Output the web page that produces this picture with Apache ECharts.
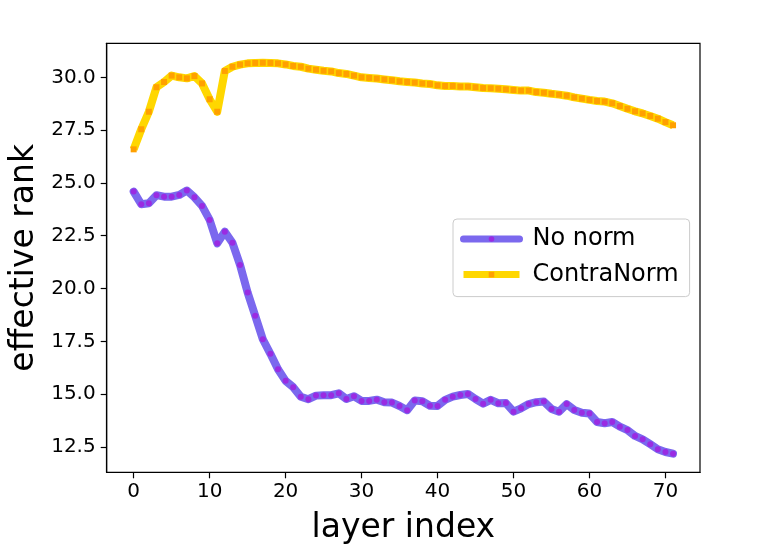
<!DOCTYPE html>
<html>
<head>
<meta charset="utf-8">
<script src="https://cdn.jsdelivr.net/npm/echarts@6/dist/echarts.min.js"></script>
<style>
  html, body { margin: 0; padding: 0; background: #fff; }
  #chart { width: 761px; height: 544px; }
</style>
</head>
<body>
<div id="chart"></div>
<script>
let layers = [];
for (let i = 0; i < 72; i++) layers.push(i);

let noNorm = [
  24.59, 23.99, 24.04, 24.42, 24.35, 24.35, 24.43, 24.64, 24.32, 23.91,
  23.25, 22.14, 22.69, 22.17, 21.12, 19.81, 18.71, 17.60, 16.91, 16.18,
  15.63, 15.33, 14.88, 14.76, 14.93, 14.95, 14.95, 15.04, 14.77, 14.90,
  14.68, 14.68, 14.74, 14.62, 14.60, 14.44, 14.24, 14.70, 14.66, 14.45,
  14.44, 14.73, 14.88, 14.96, 15.01, 14.77, 14.55, 14.73, 14.57, 14.58,
  14.17, 14.33, 14.53, 14.62, 14.65, 14.30, 14.17, 14.53, 14.25, 14.12,
  14.08, 13.68, 13.62, 13.68, 13.46, 13.30, 13.02, 12.86, 12.63, 12.39,
  12.26, 12.18
];

let contraNorm = [
  26.59, 27.54, 28.37, 29.53, 29.78, 30.08, 30.00, 29.95, 30.06, 29.71,
  28.96, 28.37, 30.30, 30.50, 30.60, 30.66, 30.68, 30.69, 30.68, 30.66,
  30.61, 30.54, 30.50, 30.41, 30.36, 30.31, 30.28, 30.20, 30.16, 30.08,
  30.00, 29.97, 29.94, 29.90, 29.86, 29.81, 29.78, 29.75, 29.71, 29.68,
  29.62, 29.59, 29.59, 29.56, 29.56, 29.53, 29.49, 29.48, 29.46, 29.43,
  29.40, 29.37, 29.37, 29.30, 29.27, 29.22, 29.18, 29.13, 29.05, 28.99,
  28.93, 28.88, 28.85, 28.77, 28.64, 28.51, 28.39, 28.29, 28.17, 28.04,
  27.88, 27.73
];

let xTicks = [0, 10, 20, 30, 40, 50, 60, 70];
let yTicks = [12.5, 15.0, 17.5, 20.0, 22.5, 25.0, 27.5, 30.0];

let font = 'DejaVu Sans';
let chart = echarts.init(document.getElementById('chart'));

let pairs = (vals) => layers.map((x, i) => [x, vals[i]]);

let option = {
  animation: false,
  backgroundColor: '#fff',
  textStyle: { fontFamily: font },
  grid: {
    left: 106.7, right: 61, top: 43.3, bottom: 71.7,
    outerBoundsMode: 'none',
    containLabel: false,
    show: true, borderColor: '#000', borderWidth: 1.2
  },
  legend: {
    orient: 'vertical',
    left: 453, top: 219,
    padding: [6, 11, 8, 7],
    itemGap: 7.6,
    itemWidth: 56, itemHeight: 7,
    backgroundColor: 'rgba(255,255,255,0.85)',
    borderColor: '#cccccc', borderWidth: 1, borderRadius: 4,
    lineStyle: { width: 7 },
    textStyle: { fontFamily: font, fontSize: 24, color: '#000', lineHeight: 28, padding: [0, 0, 0, 8] },
    data: ['No norm', 'ContraNorm']
  },
  xAxis: {
    type: 'value',
    min: -3.55, max: 74.55,
    name: 'layer index',
    nameLocation: 'middle',
    nameGap: 40,
    nameMoveOverlap: false,
    nameTextStyle: { fontFamily: font, fontSize: 33, color: '#000' },
    splitLine: { show: false },
    axisLine: { show: true, onZero: false, lineStyle: { color: '#000', width: 1.2 } },
    axisTick: { show: true, length: 6, lineStyle: { color: '#000', width: 1.2 }, customValues: xTicks },
    axisLabel: { fontFamily: font, fontSize: 20, color: '#000', margin: 9, customValues: xTicks }
  },
  yAxis: {
    type: 'value',
    min: 11.3, max: 31.61,
    name: 'effective rank',
    nameLocation: 'middle',
    nameGap: 66,
    nameMoveOverlap: false,
    nameTextStyle: { fontFamily: font, fontSize: 33, color: '#000' },
    splitLine: { show: false },
    axisLine: { show: true, onZero: false, lineStyle: { color: '#000', width: 1.2 } },
    axisTick: { show: true, length: 6, lineStyle: { color: '#000', width: 1.2 }, customValues: yTicks },
    axisLabel: {
      fontFamily: font, fontSize: 20, color: '#000', margin: 11,
      customValues: yTicks,
      formatter: (v) => v.toFixed(1)
    }
  },
  series: [
    {
      name: 'No norm',
      type: 'line',
      data: pairs(noNorm),
      showAllSymbol: true,
      symbol: 'circle',
      symbolSize: 6,
      lineStyle: { color: '#7B68EE', width: 8, join: 'round', cap: 'round' },
      itemStyle: { color: '#9A2BE2', borderWidth: 0 },
      emphasis: { disabled: true }
    },
    {
      name: 'ContraNorm',
      type: 'line',
      data: pairs(contraNorm),
      showAllSymbol: true,
      symbol: 'rect',
      symbolSize: 6,
      lineStyle: { color: '#FFD700', width: 8, join: 'round', cap: 'butt' },
      itemStyle: { color: '#FFA000', borderWidth: 0 },
      emphasis: { disabled: true }
    }
  ]
};

chart.setOption(option);
</script>
</body>
</html>
